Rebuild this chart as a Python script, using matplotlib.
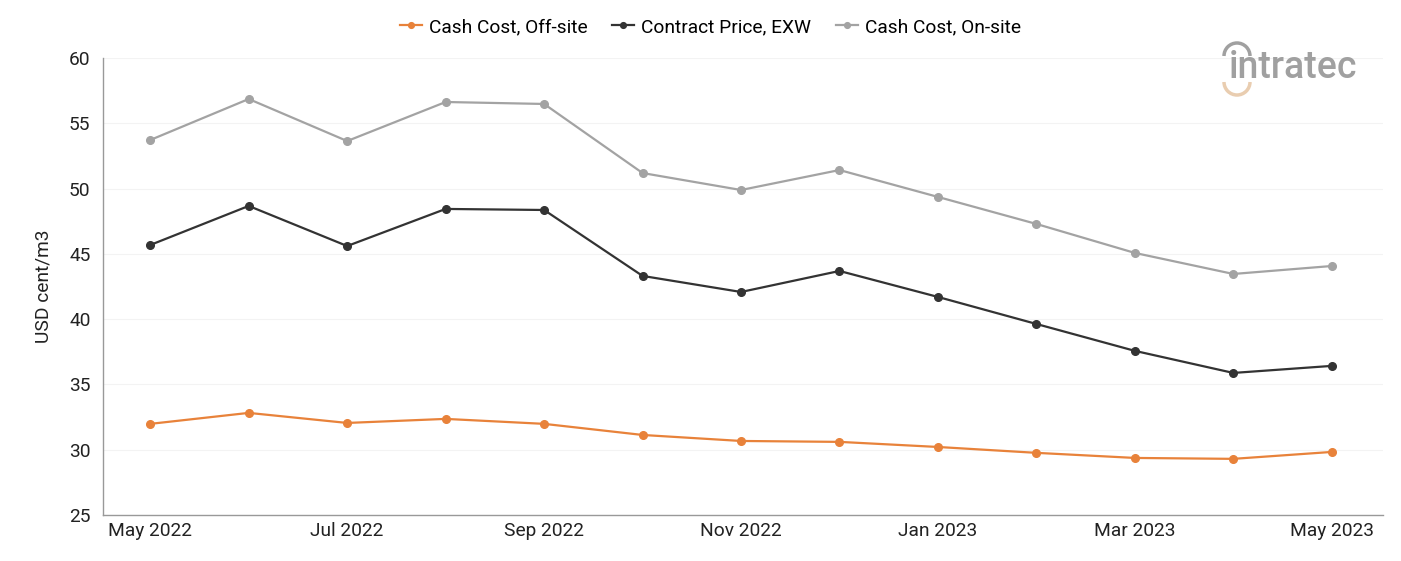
import matplotlib.pyplot as plt
from matplotlib.patches import Arc

plt.rcParams["font.family"] = ["Roboto", "DejaVu Sans"]

months = ["May 2022", "Jun 2022", "Jul 2022", "Aug 2022", "Sep 2022", "Oct 2022",
          "Nov 2022", "Dec 2022", "Jan 2023", "Feb 2023", "Mar 2023", "Apr 2023",
          "May 2023"]
cash_off_site = [31.98, 32.82, 32.05, 32.36, 31.98, 31.13, 30.67, 30.60, 30.21,
                 29.76, 29.37, 29.30, 29.83]
contract_exw = [45.68, 48.67, 45.60, 48.44, 48.36, 43.31, 42.08, 43.69, 41.70,
                39.63, 37.57, 35.88, 36.42]
cash_on_site = [53.72, 56.86, 53.64, 56.63, 56.48, 51.19, 49.89, 51.42, 49.36,
                47.29, 45.07, 43.46, 44.07]

series = [
    ("Cash Cost, Off-site", cash_off_site, "#E8823A"),
    ("Contract Price, EXW", contract_exw, "#333333"),
    ("Cash Cost, On-site", cash_on_site, "#A3A3A3"),
]

fig = plt.figure(figsize=(14.01, 5.61), dpi=100)
ax = fig.add_axes([103 / 1401, 1 - 515 / 561, 1280 / 1401, 457 / 561])

x = list(range(len(months)))
for label, values, color in series:
    ax.plot(x, values, color=color, lw=1.6, marker="o", ms=5.5, label=label)

ax.set_ylim(25, 60)
ax.set_yticks(range(25, 61, 5))
ax.set_xlim(-0.48, 12.52)
ax.set_xticks(x[::2])
ax.set_xticklabels(months[::2])
ax.tick_params(axis="both", length=0, labelsize=13.8, colors="#222222")
ax.tick_params(axis="x", pad=5)
ax.tick_params(axis="y", pad=9)
ax.set_ylabel("USD cent/m3", fontsize=13.8, color="#222222", labelpad=12)
ax.grid(axis="y", color="#f3f3f3", lw=0.8)
ax.set_axisbelow(True)
for side in ["top", "right"]:
    ax.spines[side].set_visible(False)
for side in ["left", "bottom"]:
    ax.spines[side].set_color("#999999")
    ax.spines[side].set_linewidth(1.0)

fig.legend(loc="center", bbox_to_anchor=(0.507, 1 - 27 / 561), ncol=3,
           frameon=False, fontsize=13.8, handlelength=1.15, handletextpad=0.35,
           columnspacing=1.3, markerscale=0.75)

# logo
fig.text(1229 / 1401, 1 - 68 / 561, "intratec", fontsize=27, color="#A0A0A0",
         ha="left", va="center", fontweight="medium")
fig.add_artist(Arc((1237 / 1401, 1 - 56 / 561), 26 / 1401, 26 / 561,
                   theta1=0, theta2=180, color="#A0A0A0", lw=2.5,
                   transform=fig.transFigure))
fig.add_artist(Arc((1237 / 1401, 1 - 82 / 561), 26 / 1401, 26 / 561,
                   theta1=180, theta2=360, color="#E9CDB0", lw=2.5,
                   transform=fig.transFigure))

fig.savefig("out.png", dpi=100)
